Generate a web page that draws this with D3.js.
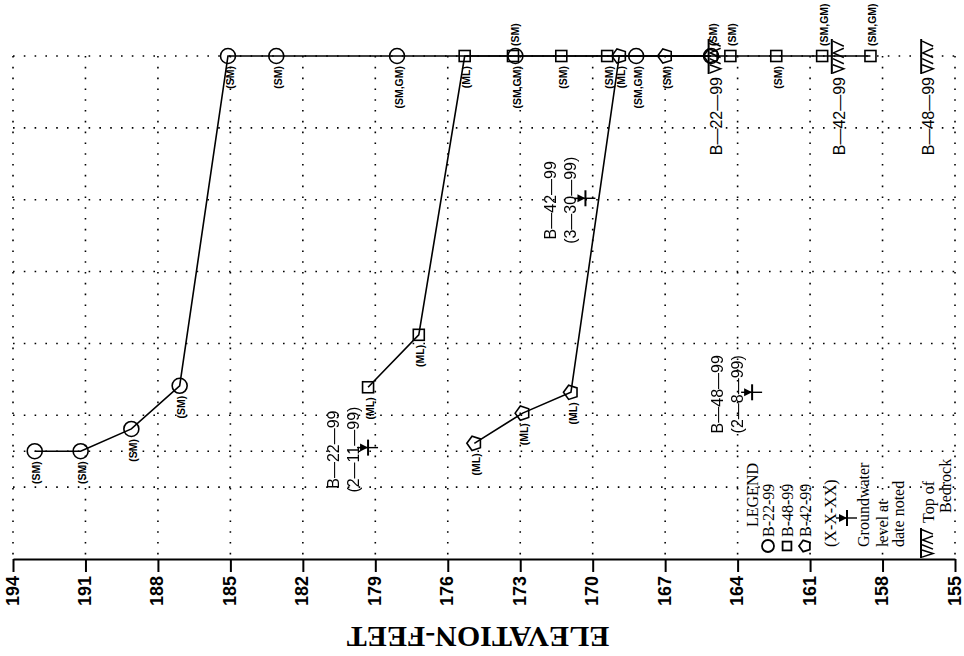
<!DOCTYPE html>
<html><head><meta charset="utf-8">
<script src="https://cdn.jsdelivr.net/npm/d3@7"></script>
<style>body{margin:0;background:#fff}svg{display:block}</style>
</head><body><svg id="c" width="964" height="656"></svg>
<script>
// ---------- data ----------
const elevTicks = [194,191,188,185,182,179,176,173,170,167,164,161,158,155];
const gridLevels = [1,1.5,2,3,4,5,6,7];

const b22Elev = [193.1,191.2,189.1,187.1,185.1,183.1,178.1,173.2,168.2,165.1];
const b22Val  = [1.5,1.5,1.81,2.41,7,7,7,7,7,7];
const b22Soil = ["(SM)","(SM)","(SM)","(SM)","(SM)","(SM)","(SM,GM)","(SM,GM)","(SM,GM)",""];
const b22Side = ["b","b","b","b","b","b","b","b","b","b"];

const b48Elev = [179.3,177.2,175.3,173.3,171.3,169.4,164.3,162.4,160.5,158.5];
const b48Val  = [2.39,3.12,7,7,7,7,7,7,7,7];
const b48Soil = ["(ML)","(ML)","(ML)","(SM)","(SM)","(SM)","(SM)","(SM)","(SM,GM)","(SM,GM)"];
const b48Side = ["b","b","b","a","b","b","a","b","a","a"];

const b42Elev = [174.9,172.9,170.9,168.9,167.0,165.1];
const b42Val  = [1.61,2.03,2.32,7,7,7];
const b42Soil = ["(ML)","(ML)","(ML)","(ML)","(SM)","(SM)"];
const b42Side = ["b","b","b","b","b","a"];

const gwNames = ["B\u201422\u201499","B\u201442\u201499","B\u201448\u201499"];
const gwDates = ["(2\u201411\u201499)","(3\u201430\u201499)","(2\u20148\u201499)"];
const gwElev  = [179.3,170.3,163.4];
const gwVal   = [1.55,5.02,2.32];

const bedNames = ["B\u201422\u201499","B\u201442\u201499","B\u201448\u201499"];
const bedElev  = [165.2,160.1,156.4];

const legendTitle = "LEGEND";
const legendSeries = ["B-22-99","B-48-99","B-42-99"];
const legendGwLines = ["(X-X-XX)","Groundwater","level at","date noted"];
const legendBedLines = ["Top of","Bedrock"];
const axisTitle = "ELEVATION-FEET";

// ---------- setup ----------
const svg = d3.select("#c");
const x = d3.scaleLinear().domain([194,155]).range([13,955]);
const y = d3.scaleLinear().domain([0,7]).range([559,56]);
const sans = "'Liberation Sans', Arial, sans-serif";
const serif = "'Liberation Serif', 'Times New Roman', serif";

// grid
const grid = svg.append("g").attr("stroke","#000").attr("stroke-width",1.6)
  .attr("stroke-dasharray","1.6 9.2").attr("fill","none");
grid.selectAll("line.v").data(elevTicks).join("line")
  .attr("x1",d=>x(d)).attr("x2",d=>x(d)).attr("y1",y(7)).attr("y2",y(0));
grid.selectAll("line.h").data(gridLevels).join("line")
  .attr("x1",x(194)).attr("x2",x(155)).attr("y1",d=>y(d)).attr("y2",d=>y(d));

// axis
const axis = d3.axisBottom(x).tickValues(elevTicks).tickSize(13).tickSizeOuter(0).tickFormat(d3.format("d"));
const ag = svg.append("g").attr("transform",`translate(0,${y(0)})`).call(axis);
ag.select(".domain").attr("stroke","#000").attr("stroke-width",2);
ag.selectAll(".tick line").attr("stroke","#000").attr("stroke-width",2);
ag.selectAll(".tick text")
  .attr("transform","translate(0,17) rotate(-90)")
  .attr("x",0).attr("y",0).attr("dy","0.28em")
  .attr("text-anchor","end")
  .attr("font-family",sans).attr("font-weight","bold").attr("font-size",18).attr("fill","#000");

// axis title
svg.append("text").attr("transform",`translate(478,627) rotate(180)`)
  .attr("text-anchor","middle").attr("font-family",serif).attr("font-weight","bold")
  .attr("font-size",30).text(axisTitle);

// ---------- series ----------
function pentagonPath(r){
  const pts = d3.range(5).map(k=>{const a=Math.PI+k*2*Math.PI/5;return [r*Math.cos(a),r*Math.sin(a)];});
  return "M"+pts.map(p=>p.join(",")).join("L")+"Z";
}
function drawMarker(g, shape, px, py, s){
  if(shape==="circle") g.append("circle").attr("cx",px).attr("cy",py).attr("r",7.5*s);
  else if(shape==="square") g.append("rect").attr("x",px-5.5*s).attr("y",py-5.5*s).attr("width",11*s).attr("height",11*s);
  else g.append("path").attr("transform",`translate(${px},${py})`).attr("d",pentagonPath(7.5*s));
}
const series = [
  {elev:b22Elev,val:b22Val,soil:b22Soil,side:b22Side,shape:"circle"},
  {elev:b48Elev,val:b48Val,soil:b48Soil,side:b48Side,shape:"square"},
  {elev:b42Elev,val:b42Val,soil:b42Soil,side:b42Side,shape:"pentagon"}
];
const line = d3.line().x(d=>x(d[0])).y(d=>y(d[1]));
const lg = svg.append("g").attr("fill","none").attr("stroke","#000").attr("stroke-width",1.6);
series.forEach(s=>{
  lg.append("path").attr("d",line(s.elev.map((e,i)=>[e,s.val[i]])));
});
const mg = svg.append("g").attr("fill","none").attr("stroke","#000").attr("stroke-width",1.6);
series.forEach(s=>{
  s.elev.forEach((e,i)=>drawMarker(mg,s.shape,x(e),y(s.val[i]),1));
});
const tg = svg.append("g").attr("font-family",sans).attr("font-weight","bold").attr("font-size",10.5);
series.forEach(s=>{
  s.elev.forEach((e,i)=>{
    if(!s.soil[i]) return;
    const px=x(e)+2, py=y(s.val[i]);
    const below = s.side[i]==="b";
    tg.append("text").attr("transform",`translate(${px},${below?py+10:py-10}) rotate(-90)`)
      .attr("text-anchor",below?"end":"start").attr("dy","0.35em").text(s.soil[i]);
  });
});

// ---------- groundwater ----------
function gwSymbol(g, px, py){
  const s = g.append("g").attr("transform",`translate(${px},${py}) rotate(-90)`);
  s.append("path").attr("d","M-4,-8L4,-8L0,0Z").attr("fill","#000");
  s.append("line").attr("x1",-8).attr("x2",8).attr("y1",0).attr("y2",0).attr("stroke","#000").attr("stroke-width",2);
  s.append("line").attr("x1",0).attr("x2",0).attr("y1",-11).attr("y2",10).attr("stroke","#000").attr("stroke-width",1.4);
}
const gw = svg.append("g");
const gwText = svg.append("g").attr("opacity",0.99).attr("font-family",sans).attr("font-size",16).attr("fill","#000");
gwElev.forEach((e,i)=>{
  const px=x(e), py=y(gwVal[i]);
  gwSymbol(gw,px,py);
  gwText.append("text").attr("transform",`translate(${px-35},${py+2}) rotate(-90)`)
    .attr("text-anchor","middle").attr("dy","0.35em").text(gwNames[i]);
  gwText.append("text").attr("transform",`translate(${px-15},${py+2}) rotate(-90)`)
    .attr("text-anchor","middle").attr("dy","0.35em").text(gwDates[i]);
});

// ---------- bedrock ----------
function bedSymbol(g, px, py, len){
  const s = g.append("g").attr("transform",`translate(${px},${py}) rotate(-90)`)
    .attr("fill","none").attr("stroke","#000").attr("stroke-width",1.5);
  const k = len/34;
  s.append("path").attr("d",`M0,0L${34*k},0`).attr("stroke-width",2);
  s.append("path").attr("d",
    `M${1*k},1L${5*k},12L${9*k},1 M${10*k},12L${15*k},1 M${16*k},12L${20.5*k},1.5L${25*k},12 M${27*k},12L${32*k},1`);
}
const bg = svg.append("g");
const bgText = svg.append("g").attr("opacity",0.99).attr("font-family",sans).attr("font-size",16).attr("fill","#000");
bedElev.forEach((e,i)=>{
  const px=x(e);
  bedSymbol(bg,px,74,35);
  bgText.append("text").attr("transform",`translate(${px+13},77) rotate(-90)`)
    .attr("text-anchor","end").text(bedNames[i]);
});

// ---------- legend ----------
const leg = svg.append("g").attr("font-family",serif).attr("font-size",16).attr("fill","#000");
function vtext(cx, yy, anchor, t){
  leg.append("text").attr("transform",`translate(${cx},${yy}) rotate(-90)`)
    .attr("text-anchor",anchor).attr("dy","0.35em").text(t);
}
vtext(752,495,"middle",legendTitle);
const legShapes = ["circle","square","pentagon"];
const legX = [768,787,805];
const lmg = svg.append("g").attr("fill","none").attr("stroke","#000").attr("stroke-width",1.8);
legendSeries.forEach((t,i)=>{
  drawMarker(lmg,legShapes[i],legX[i],546,0.8);
  vtext(legX[i],537,"start",t);
});
vtext(830,547,"start",legendGwLines[0]);
gwSymbol(svg,847,518);
[863,882,898].forEach((cx,i)=>vtext(cx,547,"start",legendGwLines[i+1]));
bedSymbol(svg,921,558,30);
vtext(928,523,"start",legendBedLines[0]);
vtext(945,513,"start",legendBedLines[1]);
</script></body></html>
